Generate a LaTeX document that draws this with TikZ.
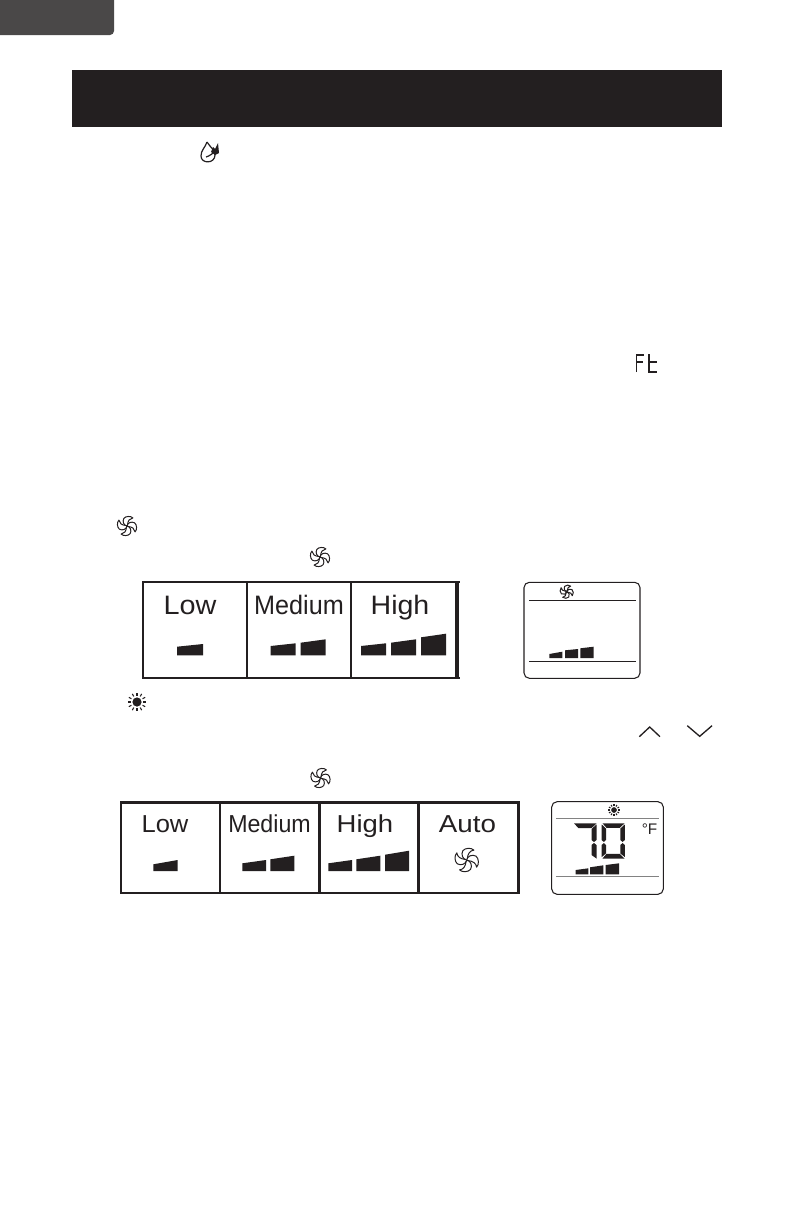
\documentclass[tikz,border=0pt]{standalone}
\usepackage{fontspec}
\usepackage{graphicx}
\setmainfont{Liberation Sans}
\usetikzlibrary{positioning,calc}
\definecolor{darkgrey}{RGB}{74,72,72}
\definecolor{barblack}{RGB}{35,31,32}
\definecolor{lcdgrey}{RGB}{130,130,130}
\tikzset{
    x=0.75pt,y=-0.75pt,
    celllabel/.style={anchor=base,inner sep=0pt,text=barblack,font=\fontsize{20}{24}\selectfont},
    smalllabel/.style={celllabel,font=\fontsize{18.4}{22}\selectfont},
    tableline/.style={draw=barblack,line width=1.8pt},
    lcdline/.style={draw=barblack,line width=0.75pt},
    fan/.pic={
        \foreach \a in {0,90,180,270}
            \draw[rotate=\a,barblack,line width=0.75pt,line join=round]
                (0,0) .. controls (-3.5,-0.5) and (-5.5,-5) .. (-3.5,-8.5)
                .. controls (-1.5,-11) and (4,-11.5) .. (6.5,-9)
                .. controls (3,-8.5) and (1,-6) .. (0.5,-1);
    },
    sunicon/.pic={
        \fill[barblack] (0,0) circle (4.6);
        \foreach \a in {0,30,...,330}
            \draw[rotate=\a,barblack,line width=0.8pt] (0,-6.4) -- (0,-9.4);
    }
}
% one wedge of a level meter
\newcommand{\levelbar}[5]{\fill[barblack] (#1,#5) -- (#1,#3) -- (#2,#4) -- (#2,#5) -- cycle;}
\begin{document}
\begin{tikzpicture}
    \useasboundingbox (0,0) rectangle (792,1224);

    % header tab and title bar
    \fill[darkgrey,rounded corners=3pt] (-10,-10) rectangle (114,35);
    \fill[barblack] (72,70) rectangle (722,127);

    % drop icon
    \draw[barblack,line width=0.9pt,line join=round] (207,142) .. controls (205,148) and (201,150) .. (201,156)
        .. controls (201,164) and (215,164) .. (215,155) .. controls (215,150) and (210,147) .. (207,142);
    \draw[barblack,line width=0.9pt] (206,157) .. controls (210,156) and (213,153) .. (217,150);
    \fill[barblack] (211,152) -- (213,147) -- (215,149) -- (218,143) -- (219,153) -- (215,155) -- cycle;

    % Ft glyph
    \draw[barblack,line width=1.1pt] (636.5,372) -- (636.5,355) -- (644,355) (636.5,362) -- (643,362);
    \draw[barblack,line width=1.1pt] (649,354) -- (649,372) -- (656.5,372) (649,362) -- (656.5,362);

    \pic[scale=0.9] at (127,526) {fan};
    \pic[scale=0.9] at (320,557) {fan};

    % first table
    \draw[tableline] (143,582) -- (460,582) (143,678) -- (460,678);
    \draw[tableline] (143,581.3) -- (143,678.7) (247,582) -- (247,678) (351,582) -- (351,678);
    \draw[barblack,line width=2.4pt] (457,582) -- (457,678);
    \node[celllabel] (lowa) at (190,614) {\scalebox{1.08}[1]{Low}};
    \node[celllabel] (mediuma) at (299,614) {\scalebox{0.945}[1]{Medium}};
    \node[celllabel] (higha) at (400,614) {\scalebox{1.07}[1]{High}};
    \levelbar{177}{203}{646.7}{644}{655.3}
    \levelbar{270.7}{295.7}{646}{643.3}{655.3}
    \levelbar{300.7}{325.7}{642.7}{639.3}{655.3}
    \levelbar{361}{386}{646}{643.3}{655.3}
    \levelbar{391}{416}{642.7}{639.3}{655.3}
    \levelbar{421}{446}{637.3}{633.7}{655.3}

    % first display
    \draw[barblack,line width=0.8pt,rounded corners=4pt] (524,582.3) rectangle (640,678.3);
    \draw[lcdline] (529,600.3) -- (636,600.3) (529,661) -- (636,661);
    \pic[scale=0.62] at (566.7,591.7) {fan};
    \levelbar{549.3}{562.3}{654}{651.7}{658}
    \levelbar{565}{578}{650.3}{649}{658}
    \levelbar{580.3}{593.7}{648.3}{646.7}{658}

    \pic at (137,702) {sunicon};

    % chevrons
    \draw[barblack,line width=1pt] (639.3,736.7) -- (649.7,727) -- (660,736.7);
    \draw[barblack,line width=1pt] (687.3,725.7) -- (699.7,736.3) -- (712,725.7);

    \pic[scale=0.9] at (320.5,778) {fan};

    % second table
    \draw[tableline] (120.7,802.3) rectangle (518.3,892.7);
    \foreach \xcell in {220,319.3,418.3}
        \draw[tableline] (\xcell,802.3) -- (\xcell,892.7);
    \node[smalllabel] (lowb) at (165,832) {\scalebox{1.04}[1]{Low}};
    \node[smalllabel] (mediumb) at (269.5,832) {\scalebox{0.945}[1]{Medium}};
    \node[smalllabel] (highb) at (365,832) {\scalebox{1.12}[1]{High}};
    \node[smalllabel] (autob) at (467.5,832) {\scalebox{1.13}[1]{Auto}};
    \levelbar{153.3}{177.7}{864.3}{860}{871}
    \levelbar{242.3}{266}{863.3}{860}{871}
    \levelbar{270.3}{294.3}{859.3}{855.7}{871}
    \levelbar{328.3}{352}{863.3}{860}{871}
    \levelbar{356.3}{380.3}{859.3}{855.7}{871}
    \levelbar{385}{409}{854.7}{850.7}{871}
    \pic[scale=1.1] at (466.7,860) {fan};

    % second display
    \draw[barblack,line width=0.8pt,rounded corners=4pt] (551.7,801.7) rectangle (663.3,894.3);
    \draw[draw=lcdgrey,line width=0.8pt] (556,818.3) -- (658.7,818.3) (556,876.7) -- (658.7,876.7);
    \pic[scale=0.62] at (614,810) {sunicon};
    \node[anchor=base,inner sep=0pt,text=barblack,font=\fontsize{11.5}{14}\selectfont] (degf) at (649.5,834) {°F};

    % digit 7
    \fill[barblack] (574,823.3) -- (596.5,823.3) -- (591.5,828.2) -- (578.5,828.2) -- cycle;
    \fill[barblack] (596.5,824.5) -- (596.5,840) -- (594,842) -- (591.5,840) -- (591.5,829) -- cycle;
    \fill[barblack] (591.5,845) -- (594,843) -- (596.5,845) -- (596.5,858.5) -- (591.5,855) -- cycle;
    % digit 0
    \fill[barblack] (602.5,823.3) -- (624.5,823.3) -- (619.8,827.8) -- (606.5,827.8) -- cycle;
    \fill[barblack] (601.7,824.5) -- (606,828.5) -- (606,840) -- (603.8,842) -- (601.7,840) -- cycle;
    \fill[barblack] (624.8,824.5) -- (624.8,840) -- (622.6,842) -- (620.4,840) -- (620.4,828.5) -- cycle;
    \fill[barblack] (603.8,843) -- (606,845) -- (606,853.5) -- (601.7,857) -- (601.7,845) -- cycle;
    \fill[barblack] (622.6,843) -- (624.8,845) -- (624.8,857) -- (620.4,853.5) -- (620.4,845) -- cycle;
    \fill[barblack] (606.5,853.8) -- (619.8,853.8) -- (624.5,858.5) -- (602.5,858.5) -- cycle;
    \levelbar{575.7}{588.3}{870}{868.3}{874.3}
    \levelbar{590}{603.3}{867.3}{865.3}{874.3}
    \levelbar{605.7}{619}{865}{863.3}{874.3}
\end{tikzpicture}
\end{document}
